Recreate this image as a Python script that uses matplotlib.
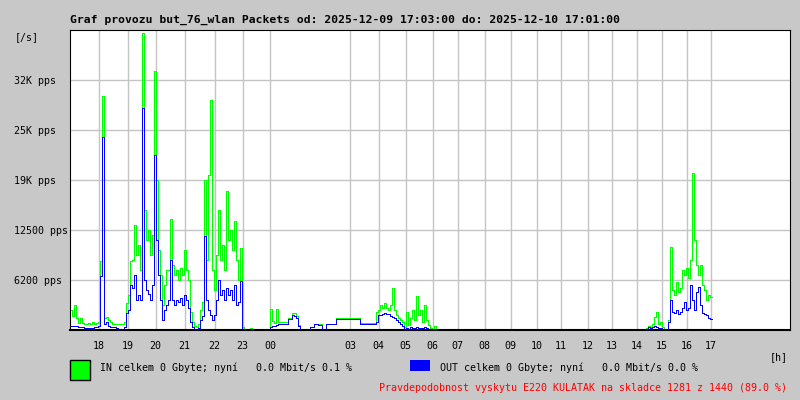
import numpy as np
import matplotlib
matplotlib.use("Agg")
import matplotlib.pyplot as plt
from matplotlib.patches import Rectangle

# one value = 4 one-minute samples, values in K pps
STEP = 4

# 17:03 .. ~23:00
evening_start = 0
in_evening = [
    2.5, 1.8, 3.1, 1.5, 0.9, 1.5, 0.9, 0.8, 0.8, 0.9,
    0.8, 1.0, 0.8, 0.9, 1.0, 8.6, 29.3, 1.5, 1.6, 1.3,
    1.0, 0.8, 0.8, 0.8, 0.8, 0.8, 0.8, 1.0, 3.4, 4.4,
    8.6, 8.8, 13.1, 9.4, 10.6, 7.5, 37.1, 15.0, 11.3, 12.5,
    9.4, 11.9, 32.4, 18.8, 10.0, 6.9, 3.1, 5.6, 7.5, 7.5,
    13.9, 8.1, 6.9, 7.5, 6.3, 7.8, 6.9, 10.0, 7.5, 6.3,
    2.3, 1.0, 0.5, 0.4, 0.8, 2.5, 3.5, 18.8, 8.8, 19.4,
    28.8, 7.5, 5.0, 9.4, 15.0, 8.8, 10.6, 7.5, 17.4, 11.3,
    12.5, 10.0, 13.6, 8.8, 6.3, 10.3, 0.4, 0.0, 0.0, 0.0,
    0.3, 0.0,
]
out_evening = [
    0.5, 0.5, 0.5, 0.5, 0.4, 0.4, 0.4, 0.3, 0.3, 0.3,
    0.3, 0.3, 0.4, 0.4, 0.5, 6.8, 24.1, 0.8, 1.0, 0.5,
    0.4, 0.4, 0.4, 0.3, 0.1, 0.1, 0.1, 0.4, 2.1, 2.5,
    5.6, 5.3, 6.9, 3.8, 4.4, 3.8, 27.8, 6.3, 5.0, 4.5,
    3.8, 5.6, 21.9, 11.3, 6.9, 3.8, 1.3, 2.5, 3.1, 3.8,
    8.8, 3.8, 3.1, 3.8, 3.5, 4.0, 3.1, 4.4, 3.8, 2.8,
    1.0, 0.4, 0.1, 0.1, 0.3, 1.3, 1.8, 11.8, 3.8, 2.5,
    1.9, 1.3, 1.9, 3.8, 6.3, 4.4, 5.0, 3.8, 5.3, 4.4,
    5.0, 3.8, 5.6, 3.1, 3.5, 6.1, 0.0, 0.0, 0.0, 0.0,
    0.0, 0.0,
]

# ~00:00 .. 06:00
night_start = 396
in_night = [
    0.0,
    2.6, 1.1, 0.9, 2.6, 1.0, 1.0, 1.0, 1.0, 1.0, 1.5,
    1.5, 2.1, 2.1, 1.8, 0.6, 0.1, 0.1, 0.1, 0.1, 0.1,
    0.4, 0.4, 0.8, 0.8, 0.8, 0.8, 0.1, 0.1, 0.8, 0.8,
    0.8, 0.8, 0.8, 1.5, 1.5, 1.5, 1.5, 1.5, 1.5, 1.5,
    1.5, 1.5, 1.5, 1.5, 1.5, 0.9, 0.9, 0.9, 0.9, 0.9,
    0.9, 0.9, 0.9, 2.3, 2.5, 3.1, 2.8, 3.4, 2.8, 2.5,
    3.1, 5.3, 2.5, 1.9, 1.5, 1.3, 1.0, 0.4, 2.3, 0.6,
    1.5, 2.5, 1.3, 4.3, 1.9, 2.5, 1.0, 3.1, 1.3, 0.6,
    0.3, 0.1, 0.5, 0.0,
]
out_night = [
    0.0,
    0.4, 0.5, 0.5, 0.6, 0.8, 0.8, 0.8, 0.8, 0.8, 1.4,
    1.4, 1.9, 1.8, 1.5, 0.5, 0.1, 0.1, 0.1, 0.1, 0.1,
    0.4, 0.4, 0.8, 0.8, 0.6, 0.6, 0.1, 0.1, 0.8, 0.8,
    0.8, 0.8, 0.8, 1.4, 1.4, 1.4, 1.4, 1.4, 1.4, 1.4,
    1.4, 1.4, 1.4, 1.4, 1.4, 0.8, 0.8, 0.8, 0.8, 0.8,
    0.8, 0.8, 0.8, 1.0, 1.9, 1.9, 2.0, 2.1, 2.0, 2.0,
    1.8, 1.6, 1.5, 1.3, 1.0, 0.8, 0.5, 0.1, 0.3, 0.1,
    0.4, 0.3, 0.3, 0.4, 0.3, 0.3, 0.3, 0.4, 0.3, 0.1,
    0.0, 0.0, 0.1, 0.0,
]

# ~14:30 .. 17:01
afternoon_start = 1148
in_afternoon = [
    0.0,
    0.3, 0.5, 0.4, 0.8, 1.6, 2.3, 0.8, 1.0, 0.4, 0.0,
    0.0, 1.3, 10.4, 5.0, 4.4, 6.0, 4.8, 5.3, 7.5, 6.9,
    7.8, 6.5, 8.8, 19.6, 11.3, 8.1, 6.9, 8.1, 5.6, 5.0,
    3.8, 4.4, 4.1,
]
out_afternoon = [
    0.0,
    0.1, 0.4, 0.3, 0.4, 0.5, 0.4, 0.3, 0.3, 0.1, 0.0,
    0.0, 1.0, 3.8, 2.3, 2.1, 2.5, 2.0, 2.3, 2.8, 3.5,
    2.5, 2.8, 5.6, 3.8, 2.5, 4.8, 5.4, 3.1, 2.1, 2.0,
    1.9, 1.5, 1.4,
]

hour_ticks = [57, 115, 171, 229, 289, 345, 400, 560, 617, 671, 725,
              775, 829, 881, 933, 981, 1035, 1083, 1133, 1183, 1233, 1281]
hour_labels = ["18", "19", "20", "21", "22", "23", "00", "03", "04", "05",
               "06", "07", "08", "09", "10", "11", "12", "13", "14", "15",
               "16", "17"]
y_ticks = [6250, 12500, 18750, 25000, 31250]
y_labels = ["6200 pps", "12500 pps", "19K pps", "25K pps", "32K pps"]

title = "Graf provozu but_76_wlan Packets od: 2025-12-09 17:03:00 do: 2025-12-10 17:01:00"
in_text = "IN celkem 0 Gbyte; nyní   0.0 Mbit/s 0.1 %"
out_text = "OUT celkem 0 Gbyte; nyní   0.0 Mbit/s 0.0 %"
note_text = "Pravdepodobnost vyskytu E220 KULATAK na skladce 1281 z 1440 (89.0 %)"

W, H = 800, 400
BG = "#c8c8c8"
MONO = "DejaVu Sans Mono"

fig = plt.figure(figsize=(W / 100, H / 100), dpi=100, facecolor=BG)
ax = fig.add_axes([70 / W, 1 - 330 / H, 720 / W, 300 / H])
ax.set_facecolor("white")

segments = [
    (evening_start, in_evening, out_evening),
    (night_start, in_night, out_night),
    (afternoon_start, in_afternoon, out_afternoon),
]
for start, vin, vout in segments:
    edges = start + STEP * np.arange(len(vin) + 1)
    ax.stairs(np.array(vin) * 1000, edges, baseline=None, color="#00ff00",
              lw=0.72, zorder=2, antialiased=False)
    ax.stairs(np.array(vout) * 1000, edges, baseline=None, color="#0000ff",
              lw=0.72, zorder=2.1, antialiased=False)

ax.set_xlim(0, 1440)
ax.set_ylim(0, 37500)
ax.set_xticks(hour_ticks, hour_labels)
ax.set_yticks(y_ticks, y_labels)
ax.grid(True, color="#c4c4c4", lw=1.0, zorder=1)
ax.set_axisbelow(True)
ax.tick_params(axis="both", length=0, labelsize=7.2)
ax.tick_params(axis="x", pad=8)
ax.tick_params(axis="y", pad=40.3)
for lab in ax.get_yticklabels():
    lab.set_ha("left")
    lab.set_family(MONO)
for lab in ax.get_xticklabels():
    lab.set_family(MONO)
for side in ["top", "right", "left"]:
    ax.spines[side].set_linewidth(0.8)
ax.spines["bottom"].set_linewidth(1.5)


def fx(x):
    return x / W


def fy(y):
    return 1 - y / H


fig.text(fx(70), fy(23), title, ha="left", va="baseline", fontsize=8.2,
         weight="bold", family=MONO)
fig.text(fx(15), fy(40), "[/s]", ha="left", va="baseline", fontsize=7.2, family=MONO)
fig.text(fx(770), fy(360), "[h]", ha="left", va="baseline", fontsize=7.2, family=MONO)

fig.add_artist(Rectangle((fx(70), fy(380)), 20 / W, 20 / H, transform=fig.transFigure,
                         facecolor="#00ff00", edgecolor="black", lw=1.0))
fig.add_artist(Rectangle((fx(410), fy(371)), 20 / W, 11 / H, transform=fig.transFigure,
                         facecolor="#0000ff", edgecolor="none"))
fig.text(fx(100), fy(371), in_text, ha="left", va="baseline", fontsize=7.2, family=MONO)
fig.text(fx(440), fy(371), out_text, ha="left", va="baseline", fontsize=7.2, family=MONO)
fig.text(fx(379), fy(391), note_text, ha="left", va="baseline", fontsize=7.2,
         family=MONO, color="#ff0000")

fig.savefig("out.png", dpi=100, facecolor=BG)
